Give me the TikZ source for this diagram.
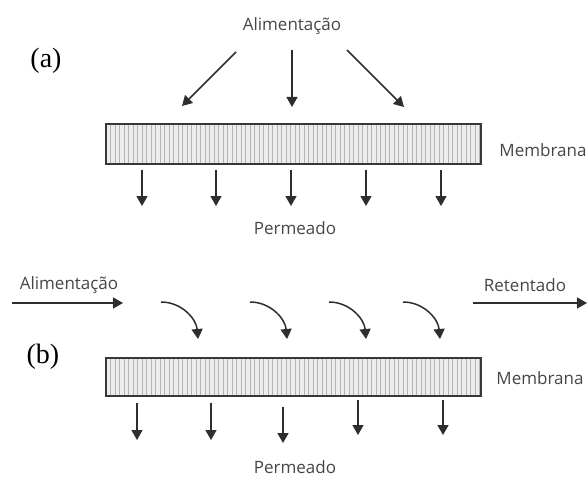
\documentclass[tikz,border=0pt]{standalone}
\usepackage{fontspec}
\setmainfont{Liberation Serif}
\newfontfamily\labelfont{Open Sans}
\usetikzlibrary{arrows.meta}
\definecolor{txt}{HTML}{464646}
\definecolor{arr}{HTML}{2E2E2E}
\definecolor{memfill}{HTML}{EDEDED}
\definecolor{memline}{HTML}{B4B4B4}
\definecolor{memborder}{HTML}{383838}
\begin{document}
\begin{tikzpicture}[x=1pt,y=-1pt,
  lbl/.style={font=\labelfont\fontsize{17}{17}\selectfont, text=txt, inner sep=0pt},
  panel/.style={font=\fontsize{28}{28}\selectfont, inner sep=0pt},
  flow/.style={draw=arr, line width=1.5pt, -{Triangle[width=11pt,length=10pt]}},
  membrane/.style={draw=memborder, line width=2.4pt, fill=memfill,
    minimum width=375pt, minimum height=#1, inner sep=0pt, anchor=north west,
    path picture={
      \foreach \i in {1,...,83}{
        \draw[memline, line width=0.9pt]
          ([xshift=\i*4.5pt]path picture bounding box.north west) --
          ([xshift=\i*4.5pt]path picture bounding box.south west);
      }
    }},
]
\useasboundingbox (0,0) rectangle (588,476);

% ---------- panel (a)
\node[panel] (pa) at (46,61) {(a)};
\node[lbl] (fa) at (292,26) {Alimentação};
\node[membrane=40pt] (ma) at (105,123) {};
\node[lbl] (mla) at (543,150) {Membrana};
\node[lbl] (pea) at (295,228) {Permeado};

\coordinate (a1s) at (236,52);  \coordinate (a1e) at (182,106);
\coordinate (a2s) at (292,50);  \coordinate (a2e) at (292,107);
\coordinate (a3s) at (347,50);  \coordinate (a3e) at (404,107);
\draw[flow] (a1s) -- (a1e);
\draw[flow] (a2s) -- (a2e);
\draw[flow] (a3s) -- (a3e);

\foreach \x [count=\k] in {142,216,291,366,441}{
  \coordinate (pas\k) at (\x,170);
  \coordinate (pae\k) at (\x,206);
  \draw[flow] (pas\k) -- (pae\k);
}

% ---------- panel (b)
\node[panel] (pb) at (43,357) {(b)};
\node[lbl] (fb) at (69,285) {Alimentação};
\node[lbl] (rb) at (525,285) {Retentado};
\node[membrane=38pt] (mb) at (105,357) {};
\node[lbl] (mlb) at (540,378) {Membrana};
\node[lbl] (peb) at (295,467) {Permeado};

\coordinate (fbs) at (12,303);  \coordinate (fbe) at (123,303);
\coordinate (rbs) at (473,303); \coordinate (rbe) at (587,303);
\draw[flow] (fbs) -- (fbe);
\draw[flow] (rbs) -- (rbe);

\foreach \x [count=\k] in {161,250,329,403}{
  \coordinate (cs\k) at (\x,302);
  \coordinate (ce\k) at (\x+37,339);
  \draw[flow] (cs\k) to[out=0,in=95] (ce\k);
}

\coordinate (pbs1) at (137,403); \coordinate (pbe1) at (137,440);
\coordinate (pbs2) at (211,403); \coordinate (pbe2) at (211,440);
\coordinate (pbs3) at (283,407); \coordinate (pbe3) at (283,443);
\coordinate (pbs4) at (358,400); \coordinate (pbe4) at (358,435);
\coordinate (pbs5) at (443,400); \coordinate (pbe5) at (443,435);
\foreach \k in {1,...,5}{ \draw[flow] (pbs\k) -- (pbe\k); }
\end{tikzpicture}
\end{document}
